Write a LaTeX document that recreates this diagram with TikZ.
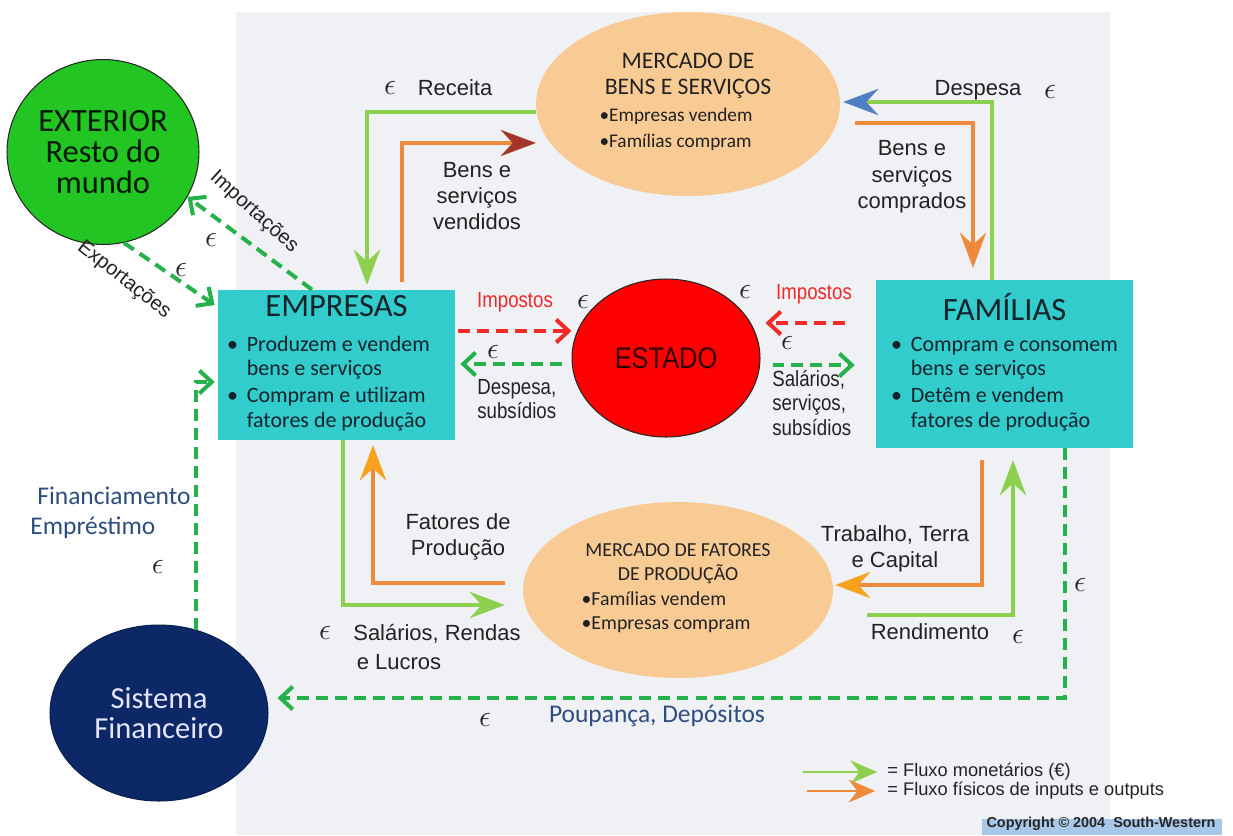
\documentclass[tikz,border=0pt]{standalone}
\usepackage{fontspec}
\setmainfont{Carlito}
\newfontfamily\arialf{Liberation Sans}
\newfontfamily\narrowf{Liberation Sans}[FakeStretch=0.85]
\usetikzlibrary{shapes.geometric,arrows.meta,positioning,calc}

\definecolor{bgc}{HTML}{EFF1F5}
\definecolor{tealbox}{HTML}{33CCCC}
\definecolor{peach}{HTML}{F9CB94}
\definecolor{extgreen}{HTML}{22C522}
\definecolor{navy}{HTML}{0C2866}
\definecolor{moneyg}{HTML}{8DCF4E}
\definecolor{goodso}{HTML}{EE8A3A}
\definecolor{goodsy}{HTML}{F6A21E}
\definecolor{dashg}{HTML}{25B14B}
\definecolor{dashr}{HTML}{F22A2A}
\definecolor{taxred}{HTML}{F02828}
\definecolor{finblue}{HTML}{2E4D7F}
\definecolor{headbrown}{HTML}{A5342B}
\definecolor{headblue}{HTML}{4F7EC2}
\definecolor{txt}{HTML}{222222}
\definecolor{boxtxt}{HTML}{13232B}
\definecolor{cpblue}{HTML}{A7C8E8}

\begin{document}
\begin{tikzpicture}[x=0.02cm, y=-0.02cm,
    box/.style={rectangle, fill=tealbox, text=boxtxt, inner sep=0pt, align=center},
    market/.style={ellipse, fill=peach, text=txt, inner sep=0pt, align=center},
    agent/.style={ellipse, draw=black!85, line width=0.6pt, inner sep=0pt, align=center},
    lbl/.style={font=\arialf\fontsize{12.5}{15}\selectfont, text=txt, inner sep=0pt, align=center},
    nlbl/.style={font=\narrowf\fontsize{12.5}{13.8}\selectfont, text=txt, inner sep=0pt, align=left},
    flbl/.style={font=\fontsize{14.5}{17}\selectfont, text=finblue, inner sep=0pt, align=left},
    eu/.style={font=\fontsize{17.28}{18}\selectfont, text=txt, inner sep=0pt},
    arrowhd/.style={-{Stealth[length=20pt,width=15pt,inset=7pt,line width=0.1pt,color=#1]}},
    money/.style={draw=moneyg, line width=2.8pt, arrowhd=moneyg},
    goods/.style={draw=goodso, line width=2.8pt, arrowhd=goodso},
    flowg/.style={draw=dashg, line width=2.3pt, dash pattern=on 6.8pt off 4pt,
      -{Straight Barb[length=7pt,width=13pt]}},
    flowr/.style={flowg, draw=dashr}]
    \useasboundingbox (0,0) rectangle (1233,835);
    \fill[bgc] (236,12) rectangle (1110,835);

    \node[agent, fill=extgreen, text=black!90!green, minimum width=3.84cm, minimum height=3.7cm,
      font=\fontsize{18.5}{17.4}\selectfont] (ext) at (103,152) {EXTERIOR\\Resto do\\mundo};
    \node[agent, fill=red, text=black!80!red, minimum width=3.76cm, minimum height=3.16cm,
      font=\narrowf\fontsize{17}{20}\selectfont] (est) at (666,358) {ESTADO};
    \node[agent, draw=navy!80!black, fill=navy, text=white!90!blue, minimum width=4.36cm,
      minimum height=3.52cm, font=\fontsize{17.4}{17}\selectfont] (sis) at (159,713) {Sistema\\Financeiro};

    \node[market, minimum width=6.08cm, minimum height=3.68cm, font=\fontsize{11}{14.7}\selectfont] (mbs) at (688,104)
      {\fontsize{13.5}{14}\selectfont MERCADO DE\\
       \fontsize{13.5}{14}\selectfont BENS E SERVIÇOS\\[0.6pt]
       \begin{tabular}[t]{@{}l@{}}•Empresas vendem\\•Famílias compram\end{tabular}\hspace*{0.48cm}};
    \node[market, minimum width=6.2cm, minimum height=3.52cm, font=\fontsize{11.3}{13.6}\selectfont] (mfp) at (678,590)
      {MERCADO DE FATORES\\DE PRODUÇÃO\\[0.5pt]
       \begin{tabular}[t]{@{}l@{}}•Famílias vendem\\•Empresas compram\end{tabular}\hspace*{0.48cm}};

    \node[box, minimum width=4.74cm, minimum height=3cm, font=\fontsize{12.5}{14}\selectfont] (emp) at (336.5,365)
      {\fontsize{18.5}{20}\selectfont EMPRESAS\\[5.8pt]
       \begin{tabular}[t]{@{}l@{\hspace{5pt}}l@{}}
       • & Produzem e vendem\\ & bens e serviços\\[1.3pt]
       • & Compram e utilizam\\ & fatores de produção
       \end{tabular}\hspace*{0.32cm}};
    \node[box, minimum width=5.14cm, minimum height=3.36cm, font=\fontsize{12.5}{14}\selectfont] (fam) at (1004.5,364)
      {\fontsize{18.5}{20}\selectfont FAMÍLIAS\\[3.6pt]
       \begin{tabular}[t]{@{}l@{\hspace{5pt}}l@{}}
       • & Compram e consomem\\ & bens e serviços\\[1.3pt]
       • & Detêm e vendem\\ & fatores de produção
       \end{tabular}};

    \draw[money] ([yshift=-0.16cm]mbs.west) -| ([xshift=0.61cm,yshift=0.1cm]emp.north);
    \draw[goods, arrowhd=headbrown] ([xshift=1.31cm,yshift=0.16cm]emp.north) |- ([yshift=-0.78cm]mbs.west);
    \draw[money, arrowhd=headblue] ([xshift=-0.25cm]fam.north) |- ([xshift=0.06cm,yshift=0.04cm]mbs.east);
    \draw[goods] ([xshift=0.3cm,yshift=-0.38cm]mbs.east) -| ([xshift=-0.63cm,yshift=0.24cm]fam.north);
    \draw[goods, arrowhd=goodsy] ([xshift=-0.36cm,yshift=0.14cm]mfp.west) -| ([xshift=0.73cm,yshift=-0.1cm]emp.south);
    \draw[money] ([xshift=0.13cm]emp.south) |- ([xshift=-0.36cm,yshift=-0.3cm]mfp.west);
    \draw[goods, arrowhd=goodsy] ([xshift=-0.45cm,yshift=-0.24cm]fam.south) |- ([xshift=0.04cm,yshift=0.1cm]mfp.east);
    \draw[money] ([xshift=0.68cm,yshift=-0.5cm]mfp.east) -| ([xshift=0.17cm,yshift=-0.24cm]fam.south);

    \coordinate (taxE) at ([xshift=0.06cm,yshift=0.68cm]emp.east);
    \coordinate (subE) at ([xshift=-0.2cm,yshift=-0.12cm]est.west);
    \coordinate (taxF) at ([xshift=-0.62cm,yshift=0.82cm]fam.west);
    \coordinate (subF) at ([xshift=0.24cm,yshift=-0.14cm]est.east);
    \draw[flowr] (taxE) -- (taxE -| est.west);
    \draw[flowg] (subE) -- ([xshift=0.1cm]subE -| emp.east);
    \draw[flowr] (taxF) -- ([xshift=0.1cm]taxF -| est.east);
    \draw[flowg] (subF) -- ([xshift=-0.42cm]subF -| fam.west);

    \draw[flowg] ([xshift=-0.49cm]emp.north) -- (ext.-28);
    \draw[flowg] (ext.-77) -- ([xshift=-0.06cm,yshift=1.2cm]emp.west);
    \draw[flowg] (sis.66) |- ([xshift=-0.06cm,yshift=-0.34cm]emp.west);
    \draw[flowg] ([xshift=1.21cm]fam.south) |- ([xshift=0.18cm,yshift=0.3cm]sis.east);

    \node[eu] (eRec) at (390,88) {$\epsilon$};
    \node[lbl] (lRec) at (455,88) {Receita};
    \node[lbl] (lBv) at (477,196) {Bens e\\serviços\\vendidos};
    \node[lbl] (lDes) at (978,90) {Despesa};
    \node[eu] (eDes) at (1050,92) {$\epsilon$};
    \node[lbl] (lBc) at (912,177) {Bens e\\serviços\\comprados};

    \node[nlbl, text=taxred] (lTaxE) at (515,302) {Impostos};
    \node[eu] (eTaxE) at (583,302) {$\epsilon$};
    \node[eu] (eSubE) at (493,352) {$\epsilon$};
    \node[nlbl, anchor=west] (lSubE) at (477,399) {Despesa,\\subsídios};
    \node[eu] (eTaxF) at (745,292) {$\epsilon$};
    \node[nlbl, text=taxred] (lTaxF) at (814,294) {Impostos};
    \node[eu] (eSubF) at (787,343) {$\epsilon$};
    \node[nlbl, anchor=west] (lSubF) at (772,403) {Salários,\\serviços,\\subsídios};

    \node[lbl] (lFat) at (458,537) {Fatores de\\Produção};
    \node[eu] (eSal) at (325,633) {$\epsilon$};
    \node[lbl, align=left, anchor=west, font=\arialf\fontsize{12.5}{17}\selectfont] (lSal) at (353,647)
      {Salários, Rendas\\\hspace*{2pt}e Lucros};
    \node[lbl] (lTrab) at (895,549) {Trabalho, Terra\\e Capital};
    \node[lbl] (lRend) at (930,632) {Rendimento};
    \node[eu] (eRend) at (1018,637) {$\epsilon$};
    \node[eu] (eSav) at (1080,585) {$\epsilon$};
    \node[eu] (eSav2) at (485,720) {$\epsilon$};
    \node[flbl] (lSav) at (657,716) {Poupança, Depósitos};
    \node[flbl, anchor=west] (lFin) at (30,513) {\hspace*{4pt}Financiamento\\Empréstimo};
    \node[eu] (eFin) at (158,567) {$\epsilon$};

    \node[lbl, rotate=-42, font=\arialf\fontsize{11.5}{13}\selectfont] (lImp) at (254,212) {Importações};
    \node[eu] (eImp) at (211,240) {$\epsilon$};
    \node[lbl, rotate=-38, font=\arialf\fontsize{11.5}{13}\selectfont] (lExp) at (124,280) {Exportações};
    \node[eu] (eExp) at (181,270) {$\epsilon$};

    \node[anchor=west, font=\arialf\fontsize{10.4}{12}\selectfont, text=txt, inner sep=0pt] (legM) at (887,772)
      {= Fluxo monetários (€)};
    \node[anchor=west, font=\arialf\fontsize{10.4}{12}\selectfont, text=txt, inner sep=0pt] (legP) at (887,791)
      {= Fluxo físicos de inputs e outputs};
    \coordinate (legA) at (803,772);
    \coordinate (legB) at (807,791);
    \draw[draw=moneyg, line width=1.5pt, -{Stealth[length=15pt,width=13pt,inset=5pt,line width=0.1pt]}]
      (legA) -- ([xshift=-0.2cm]legM.west);
    \draw[draw=goodso, line width=1.5pt, -{Stealth[length=15pt,width=13pt,inset=5pt,line width=0.1pt]}]
      (legB) -- ([xshift=-0.24cm]legP.west);

    \fill[cpblue] (982,819) rectangle (1222,835);
    \node[font=\arialf\bfseries\fontsize{8.2}{9}\selectfont, text=black!85, inner sep=0pt] (copy) at (1101,824)
      {Copyright © 2004\ \ South-Western};
\end{tikzpicture}
\end{document}
